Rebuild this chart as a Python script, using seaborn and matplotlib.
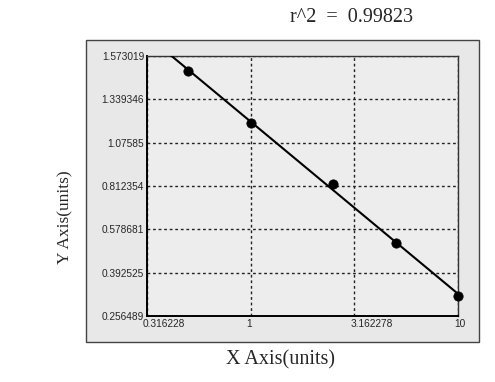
import numpy as np
import pandas as pd
import matplotlib
matplotlib.use("Agg")
import matplotlib.pyplot as plt
from matplotlib.patches import Rectangle
from matplotlib.transforms import ScaledTranslation
import seaborn as sns

# ---- data ----
x_conc = [0.5, 1.0, 2.5, 5.0, 10.0]
y_resp = [1.491, 1.193, 0.826, 0.520, 0.319]
x_ticks = [0.316228, 1.0, 3.162278, 10.0]
x_tick_labels = ["0.316228", "1", "3.162278", "10"]
y_ticks = [0.256489, 0.392525, 0.578681, 0.812354, 1.07585, 1.339346, 1.573019]
y_tick_labels = ["0.256489", "0.392525", "0.578681", "0.812354", "1.07585", "1.339346", "1.573019"]
r2_text = "r^2  =  0.99823"

sns.set_style("white")
plt.rcParams["font.family"] = ["Liberation Sans", "DejaVu Sans"]

yt = np.array(y_ticks)
pos = np.arange(len(yt), dtype=float)


def fwd(y):
    y = np.asarray(y, dtype=float)
    idx = np.interp(y, yt, pos)
    idx = np.where(y < yt[0], (y - yt[0]) / (yt[1] - yt[0]), idx)
    idx = np.where(y > yt[-1], pos[-1] + (y - yt[-1]) / (yt[-1] - yt[-2]), idx)
    return idx


def inv(i):
    i = np.asarray(i, dtype=float)
    y = np.interp(i, pos, yt)
    y = np.where(i < 0, yt[0] + i * (yt[1] - yt[0]), y)
    y = np.where(i > pos[-1], yt[-1] + (i - pos[-1]) * (yt[-1] - yt[-2]), y)
    return y


fig = plt.figure(figsize=(4.95, 3.82), dpi=100)
fig.patch.set_facecolor("white")

# outer panel
panel = Rectangle((86 / 495, 1 - 342 / 382), 393 / 495, 302 / 382,
                  transform=fig.transFigure, facecolor="#e8e8e8",
                  edgecolor="#444444", linewidth=1.0, zorder=-5)
fig.patches.append(panel)

ax = fig.add_axes([147 / 495, 1 - 316 / 382, 311 / 495, 260 / 382])
ax.set_zorder(2)
ax.set_facecolor("#ededed")
ax.set_xscale("log")
ax.set_yscale("function", functions=(fwd, inv))

# fit line in display space
lx = np.log10(np.array(x_conc))
ly = fwd(np.array(y_resp))
a, b = np.polyfit(lx, ly, 1)
xl = np.logspace(np.log10(x_ticks[0]), np.log10(x_ticks[-1]), 200)
yl = inv(a * np.log10(xl) + b)
line_df = pd.DataFrame({"x": xl, "y": yl})
pts_df = pd.DataFrame({"x": x_conc, "y": y_resp})

sns.lineplot(data=line_df, x="x", y="y", ax=ax, color="black", linewidth=1.5,
             zorder=3)
sns.scatterplot(data=pts_df, x="x", y="y", ax=ax, color="black", s=45,
                edgecolor="black", zorder=4, clip_on=False)

ax.set_xlim(x_ticks[0], x_ticks[-1])
ax.set_ylim(y_ticks[0], y_ticks[-1])

ax.set_xticks(x_ticks)
ax.set_xticklabels(x_tick_labels, fontsize=7.3, ha="left")
ax.xaxis.set_minor_locator(matplotlib.ticker.NullLocator())
ax.set_yticks(y_ticks)
ax.set_yticklabels(y_tick_labels, fontsize=7.3)
ax.yaxis.set_minor_locator(matplotlib.ticker.NullLocator())
ax.tick_params(axis="both", length=0, pad=2)
off = ScaledTranslation(-3 / 72, 0, fig.dpi_scale_trans)
for lab in ax.get_xticklabels():
    lab.set_transform(lab.get_transform() + off)

ax.grid(True, linestyle=(0, (2, 2)), color="#222222", linewidth=1.0)
ax.set_axisbelow(True)

for side in ["left", "bottom"]:
    ax.spines[side].set_color("black")
    ax.spines[side].set_linewidth(1.4)
for side in ["top", "right"]:
    ax.spines[side].set_color("#333333")
    ax.spines[side].set_linewidth(1.0)

ax.set_xlabel("X Axis(units)", fontsize=14.5, family=["Liberation Serif"])
ax.xaxis.set_label_coords(0.428, -0.131)
ax.xaxis.label.set_va("top")
ax.set_ylabel("Y Axis(units)", fontsize=12.5, family=["Liberation Serif"])
ax.yaxis.set_label_coords(-0.264, 0.381)
ax.yaxis.label.set_va("center")

fig.text(351 / 495, 1 - 18 / 382, r2_text, ha="center", va="center",
         fontsize=14.5, family=["Liberation Serif"])

fig.savefig("out.png", dpi=100)
